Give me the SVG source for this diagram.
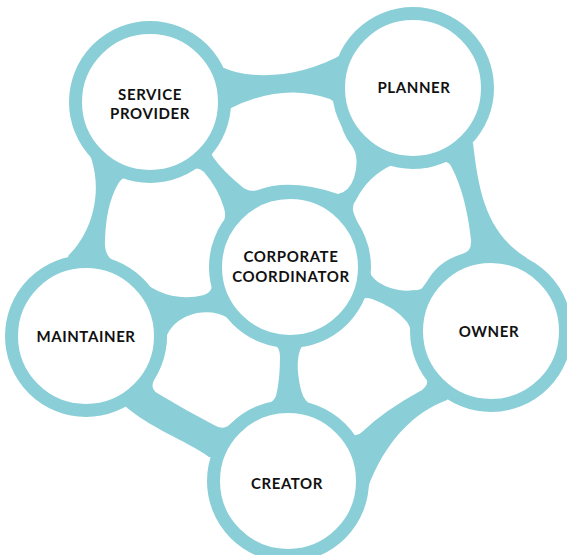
<svg xmlns="http://www.w3.org/2000/svg" width="567" height="555" viewBox="0 0 567 555">
<style>
.teal{fill:#8acfd7}
.hole{fill:#ffffff}
.ring{fill:#ffffff;stroke:#8acfd7;stroke-width:13}
.lbl{font-family:Lato,"Noto Sans",sans-serif;font-weight:700;font-size:15px;letter-spacing:0.6px;fill:#111111;text-anchor:middle}
</style>
<rect width="567" height="555" fill="#ffffff"/>
<g id="connectors">
<path class="teal" d="M 220 66 C 245 80 300 80 346 52 L 473 143 C 478 185 484 232 527 258 L 447 400 C 415 412 385 440 367 490 L 209 457 C 185 440 150 428 125 406 L 68 256 C 100 225 105 170 80 137 Z"/>
<path class="hole" d="M 229 109 Q 283 82 330 99 Q 338 103 339 113 Q 341 133 352 146 Q 360 158 354 178 Q 349 192 338 194 Q 290 178 258 190 Q 248 193 240 185 Q 222 170 213 157 Q 209 150 216 143 Q 226 130 226 116 Q 226 111 229 109 Z"/>
<path class="hole" d="M 128 177 Q 160 190 192 170 Q 198 166 204 172 Q 218 188 224 208 Q 227 218 222 226 Q 208 250 212 282 Q 213 292 204 295 Q 180 301 158 291 Q 140 282 112 260 Q 104 254 105 240 Q 106 205 118 184 Q 122 177 128 177 Z"/>
<path class="hole" d="M 356 200 Q 368 176 392 165 Q 398 163 404 166 Q 425 172 440 163 Q 448 159 452 168 Q 466 195 471 240 Q 472 252 462 254 Q 436 262 426 284 Q 422 291 414 290 Q 395 293 378 282 Q 370 276 368 268 Q 364 236 354 214 Q 351 206 356 200 Z"/>
<path class="hole" d="M 358 302 Q 364 296 372 299 Q 395 307 407 322 Q 411 328 412 336 Q 414 360 426 376 Q 430 384 422 390 Q 385 410 362 432 Q 356 438 350 433 Q 332 414 314 407 Q 304 402 301 390 Q 295 365 300 350 Q 303 342 312 340 Q 340 330 358 302 Z"/>
<path class="hole" d="M 167 335 Q 175 318 197 313 Q 215 310 228 318 Q 255 338 274 344 Q 280 348 280 356 Q 280 380 276 396 Q 273 403 265 405 Q 242 413 228 426 Q 222 430 214 425 Q 185 410 157 393 Q 150 388 154 380 Q 166 360 167 335 Z"/>
</g>
<g id="service-provider">
<circle class="ring" cx="150" cy="102" r="74.5"/>
<text class="lbl" x="150" y="99.5">SERVICE</text>
<text class="lbl" x="150" y="119">PROVIDER</text>
</g>
<g id="planner">
<circle class="ring" cx="413" cy="88" r="74.5"/>
<text class="lbl" x="414" y="92.5">PLANNER</text>
</g>
<g id="corporate-coordinator">
<circle class="ring" cx="290" cy="267" r="74.5"/>
<text class="lbl" x="291" y="262">CORPORATE</text>
<text class="lbl" x="291" y="282">COORDINATOR</text>
</g>
<g id="maintainer">
<circle class="ring" cx="86" cy="336" r="74.5"/>
<text class="lbl" x="86" y="342">MAINTAINER</text>
</g>
<g id="owner">
<circle class="ring" cx="491" cy="331" r="74.5"/>
<text class="lbl" x="489" y="337">OWNER</text>
</g>
<g id="creator">
<circle class="ring" cx="288" cy="481" r="74.5"/>
<text class="lbl" x="287" y="489">CREATOR</text>
</g>
</svg>
